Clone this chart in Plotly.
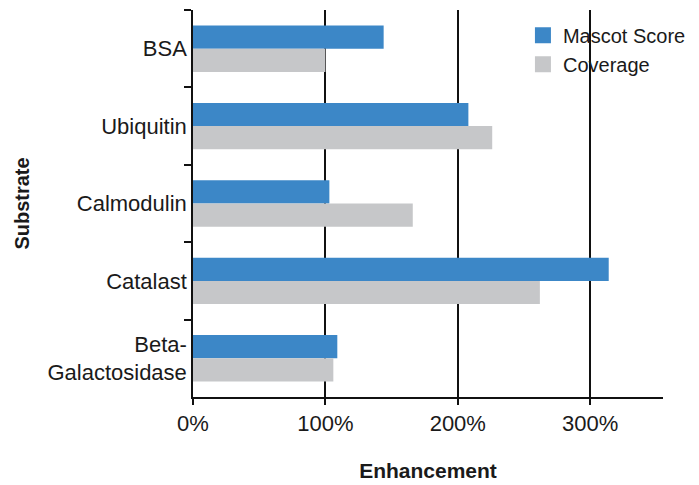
import plotly.graph_objects as go

categories = ["BSA", "Ubiquitin", "Calmodulin", "Catalast", "Beta-<br>Galactosidase"]
mascot_score = [144, 208, 103, 314, 109]
coverage = [100, 226, 166, 262, 106]
x_ticks = [0, 100, 200, 300]
x_tick_labels = ["0%", "100%", "200%", "300%"]
series_names = ["Mascot Score", "Coverage"]
series_colors = ["#3C87C7", "#C6C7C9"]

FONT = "Liberation Sans"

fig = go.Figure()
for name, vals, col in zip(series_names, [mascot_score, coverage], series_colors):
    fig.add_trace(go.Bar(y=categories, x=vals, orientation="h", name=name,
                         marker=dict(color=col, line=dict(width=0)), showlegend=False))
# legend entries with larger square swatches
for name, col in zip(series_names, series_colors):
    fig.add_trace(go.Scatter(x=[None], y=[None], mode="markers", name=name,
                             marker=dict(symbol="square", size=17, color=col)))

fig.update_layout(
    width=699, height=485,
    margin=dict(l=193, r=36, t=10, b=88, autoexpand=False),
    paper_bgcolor="white", plot_bgcolor="white",
    barmode="group", bargap=0.4, bargroupgap=0,
    font=dict(family=FONT, size=22, color="#1a1a1a"),
    showlegend=True,
    legend=dict(x=0.702, y=0.985, xanchor="left", yanchor="top",
                font=dict(size=20), bgcolor="rgba(255,255,255,0)",
                itemwidth=30, tracegroupgap=0),
    xaxis=dict(range=[0, 355], tickvals=x_ticks, ticktext=x_tick_labels,
               showgrid=True, gridcolor="#111111", gridwidth=1.5,
               showline=True, linecolor="#111111", linewidth=1.5,
               ticks="outside", ticklen=6, tickcolor="#111111", tickwidth=1.5,
               zeroline=False, automargin=False,
               title=dict(text="<b>Enhancement</b>", font=dict(size=21), standoff=28)),
    yaxis=dict(autorange="reversed", showline=True, linecolor="#111111", linewidth=1.5,
               ticks="outside", ticklen=7, tickcolor="#111111", tickwidth=1.5,
               tickson="boundaries", showgrid=False, automargin=False,
               title=dict(text="<b>Substrate</b>", font=dict(size=20), standoff=12)),
)

fig.write_html("out.html", config={"displayModeBar": False},
               post_script="document.body.style.margin='0';")
